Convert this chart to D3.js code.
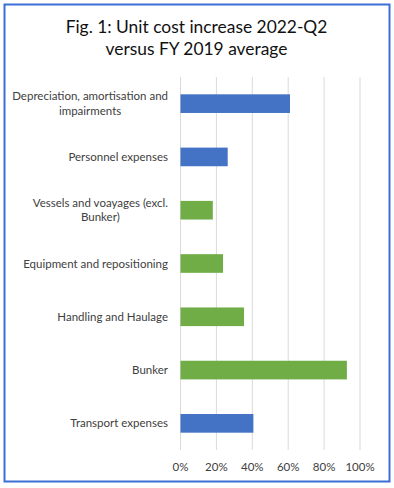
<!DOCTYPE html>
<html lang="en">
<head>
  <meta charset="UTF-8">
  <title>Unit cost increase</title>
  <script src="https://cdn.jsdelivr.net/npm/d3@7"></script>
  <style>
    body { margin: 0; background: #fff; }
    text { font-family: Lato, "Open Sans", sans-serif; fill: #404040; }
  </style>
</head>
<body>
  <svg width="394" height="488"></svg>
  <script>
    var categories = [
      ["Depreciation, amortisation and", "impairments"],
      ["Personnel expenses"],
      ["Vessels and voayages (excl.", "Bunker)"],
      ["Equipment and repositioning"],
      ["Handling and Haulage"],
      ["Bunker"],
      ["Transport expenses"]
    ]
    var values = [0.61, 0.263, 0.18, 0.237, 0.354, 0.927, 0.406]
    var groups = ["blue", "blue", "green", "green", "green", "green", "blue"]
    var ticks = [0, 0.2, 0.4, 0.6, 0.8, 1.0]
    var titleLines = ["Fig. 1: Unit cost increase 2022-Q2", "versus FY 2019 average"]
    var colors = { blue: "#4472c4", green: "#70ad47" }

    var svg = d3.select("svg")

    // frame
    svg.append("rect")
      .attr("x", 4.5).attr("y", 4.5)
      .attr("width", 385).attr("height", 477)
      .attr("fill", "#fff")
      .attr("stroke", "#3c6fd6")
      .attr("stroke-width", 2)

    // title: Calibri is not available, so shrink the stand-in font to the same width
    var t1 = svg.append("text")
      .attr("x", 196.5).attr("y", 33)
      .attr("text-anchor", "middle")
      .attr("font-size", 18)
      .style("fill", "#111")
      .text(titleLines[0])
    var fs = 18 * 262 / t1.node().getComputedTextLength()
    t1.attr("font-size", fs)
    svg.append("text")
      .attr("x", 196.5).attr("y", 55)
      .attr("text-anchor", "middle")
      .attr("font-size", fs)
      .style("fill", "#111")
      .text(titleLines[1])

    var x = d3.scaleLinear().domain([0, 1]).range([180.5, 360])
    var y = d3.scaleBand()
      .domain(d3.range(categories.length))
      .range([77, 450])
      .paddingInner(0.65)
      .paddingOuter(0.325)

    svg.append("g")
      .selectAll("line")
      .data(ticks)
      .enter()
      .append("line")
      .attr("x1", d => x(d)).attr("x2", d => x(d))
      .attr("y1", 77).attr("y2", 450)
      .attr("stroke", "#d9d9d9")
      .attr("stroke-width", 1)

    svg.append("g")
      .selectAll("text")
      .data(ticks)
      .enter()
      .append("text")
      .attr("x", d => x(d))
      .attr("y", 470.5)
      .attr("text-anchor", "middle")
      .attr("font-size", 11.5)
      .text(d3.format(".0%"))

    svg.append("g")
      .selectAll("rect")
      .data(values)
      .enter()
      .append("rect")
      .attr("x", x(0))
      .attr("y", (d, i) => y(i))
      .attr("width", d => x(d) - x(0))
      .attr("height", y.bandwidth())
      .attr("fill", (d, i) => colors[groups[i]])

    // category labels, wrapped lines centred within the right-aligned block
    var labelRight = 168
    categories.forEach(function (lines, i) {
      var g = svg.append("g")
      var cy = y(i) + y.bandwidth() / 2
      var top = cy - (lines.length - 1) * 14.5 / 2 + 4
      var texts = lines.map(function (l, j) {
        return g.append("text")
          .attr("y", top + j * 14.5)
          .attr("font-size", 11.5)
          .attr("text-anchor", "middle")
          .text(l)
      })
      var w = d3.max(texts, t => t.node().getComputedTextLength())
      texts.forEach(t => t.attr("x", labelRight - w / 2))
    })
  </script>
</body>
</html>
